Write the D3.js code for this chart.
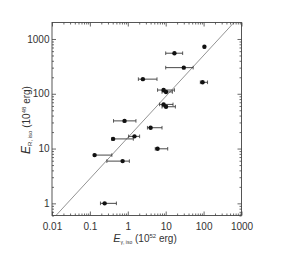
<!DOCTYPE html>
<html>
<head>
<meta charset="utf-8">
<script src="https://cdn.jsdelivr.net/npm/d3@7"></script>
<style>
  html, body { margin: 0; padding: 0; background: #fff; }
  svg { display: block; }
  .tick-label { font-family: "Liberation Sans Narrow", "Liberation Sans", Arial, sans-serif; font-size: 10px; fill: #333; }
  .title { font-family: "Liberation Sans", Arial, sans-serif; font-size: 10px; fill: #333; }
</style>
</head>
<body>
<svg width="284" height="256"></svg>
<script>
const width = 284
const height = 256
const svg = d3.select('svg')

// data
const eGamma = [105, 17, 30, 2.5, 94, 8.8, 10.2, 8.8, 10.2, 0.82, 4.0, 1.5, 0.41, 6.1, 0.133, 0.73, 0.245]
const eRadio = [720, 550, 300, 185, 162, 117, 108, 64, 58, 32, 24, 16.7, 15, 9.9, 7.6, 5.9, 1.0]
const eGammaLow = [100, 10, 10, 1.9, 82, 6.1, 8, 6.9, 8, 0.42, 3.3, 1.05, 0.38, 5.3, 0.13, 0.28, 0.19]
const eGammaHigh = [110, 28, 53, 5.9, 127, 17, 15, 15.6, 18, 1.64, 8, 2.05, 1.4, 11.3, 0.38, 1.1, 0.5]
const xTickLabels = ['0.01', '0.1', '1', '10', '100', '1000']
const yTickLabels = ['1', '10', '100', '1000']
// fitted line log10(y) = intercept + slope * log10(x)
const fitSlope = 0.75
const fitIntercept = 1.2

const mLeft = 52, mRight = 241.5, mTop = 22.5, mBottom = 215.5

const x = d3.scaleLog().domain([0.01, 1000]).range([mLeft, mRight])
const y = d3.scaleLog().domain([0.6, 2000]).range([mBottom, mTop])

const majorX = xTickLabels.map(Number)
const majorY = yTickLabels.map(Number)
const minorOf = scale => {
  let out = []
  const [a, b] = scale.domain()
  for (let e = -3; e <= 4; e++) {
    for (let m = 2; m <= 9; m++) {
      const v = m * Math.pow(10, e)
      if (v > Math.min(a, b) && v < Math.max(a, b)) out.push(v)
    }
  }
  return out
}
const minorX = minorOf(x)
const minorY = minorOf(y)

// clip for data
svg.append('clipPath').attr('id', 'clip')
  .append('rect')
  .attr('x', mLeft).attr('y', mTop)
  .attr('width', mRight - mLeft).attr('height', mBottom - mTop)

// fit line
const lineX = [0.01, 1000]
svg.append('g').attr('clip-path', 'url(#clip)')
  .append('path')
  .attr('d', d3.line()
    .x(d => x(d))
    .y(d => y(Math.pow(10, fitIntercept + fitSlope * Math.log10(d))))(lineX))
  .attr('fill', 'none')
  .attr('stroke', '#777')
  .attr('stroke-width', 0.8)

// axes ticks (inward)
const axisColor = '#444'
const addAxis = (axisFn, scale, values, size, transform, labels) => {
  const g = svg.append('g')
    .attr('transform', transform)
    .call(axisFn(scale).tickValues(values).tickSize(size).tickSizeOuter(0)
      .tickFormat(labels ? (d, i) => labels[i] : ''))
  g.select('.domain').remove()
  g.selectAll('line').attr('stroke', axisColor).attr('stroke-width', 0.8)
  g.selectAll('text').attr('class', 'tick-label')
  return g
}
// bottom
const bx = addAxis(d3.axisBottom, x, majorX, -4, `translate(0,${mBottom})`, xTickLabels)
bx.selectAll('text').attr('y', 7).attr('dy', '0.71em')
addAxis(d3.axisBottom, x, minorX, -2, `translate(0,${mBottom})`, null)
// top
addAxis(d3.axisTop, x, majorX, -4, `translate(0,${mTop})`, null)
addAxis(d3.axisTop, x, minorX, -2, `translate(0,${mTop})`, null)
// left
const ly = addAxis(d3.axisLeft, y, majorY, -4, `translate(${mLeft},0)`, yTickLabels)
ly.selectAll('text').attr('x', -2.5)
addAxis(d3.axisLeft, y, minorY, -2, `translate(${mLeft},0)`, null)
// right
addAxis(d3.axisRight, y, majorY, -4, `translate(${mRight},0)`, null)
addAxis(d3.axisRight, y, minorY, -2, `translate(${mRight},0)`, null)

// frame
svg.append('rect')
  .attr('x', mLeft).attr('y', mTop)
  .attr('width', mRight - mLeft).attr('height', mBottom - mTop)
  .attr('fill', 'none').attr('stroke', axisColor).attr('stroke-width', 0.9)

// error bars and points
const pts = eGamma.map((v, i) => ({ x: v, y: eRadio[i], lo: eGammaLow[i], hi: eGammaHigh[i] }))
const pg = svg.append('g')
const bars = pg.selectAll('g.bar').data(pts).enter().append('g').attr('class', 'bar')
bars.append('line')
  .attr('x1', d => x(d.lo)).attr('x2', d => x(d.hi))
  .attr('y1', d => y(d.y)).attr('y2', d => y(d.y))
  .attr('stroke', '#333').attr('stroke-width', 0.9)
bars.selectAll('line.cap')
  .data(d => [[d.lo, d.y], [d.hi, d.y]])
  .enter().append('line')
  .attr('class', 'cap')
  .attr('x1', d => x(d[0])).attr('x2', d => x(d[0]))
  .attr('y1', d => y(d[1]) - 1.8).attr('y2', d => y(d[1]) + 1.8)
  .attr('stroke', '#333').attr('stroke-width', 0.8)
pg.selectAll('circle').data(pts).enter().append('circle')
  .attr('cx', d => x(d.x)).attr('cy', d => y(d.y))
  .attr('r', 2.2).attr('fill', '#111')

// axis titles
const xt = svg.append('text').attr('class', 'title')
  .attr('x', 145).attr('y', 242).attr('text-anchor', 'middle')
xt.append('tspan').attr('font-style', 'italic').attr('font-size', '11px').text('E')
xt.append('tspan').attr('font-size', '5px').attr('dy', 2).text('γ, iso')
xt.append('tspan').attr('dy', -2).text(' (10')
xt.append('tspan').attr('font-size', '6px').attr('dy', -4).text('52')
xt.append('tspan').attr('dy', 4).text(' erg)')

const yt = svg.append('text').attr('class', 'title')
  .attr('font-size', '11px')
  .attr('transform', 'translate(30,120) rotate(-90)').attr('text-anchor', 'middle')
yt.append('tspan').attr('font-style', 'italic').attr('font-size', '12px').text('E')
yt.append('tspan').attr('font-size', '6px').attr('dy', 2).text('R, iso')
yt.append('tspan').attr('dy', -2).text('  (10')
yt.append('tspan').attr('font-size', '6px').attr('dy', -4).text('48')
yt.append('tspan').attr('dy', 4).text(' erg)')
</script>
</body>
</html>
